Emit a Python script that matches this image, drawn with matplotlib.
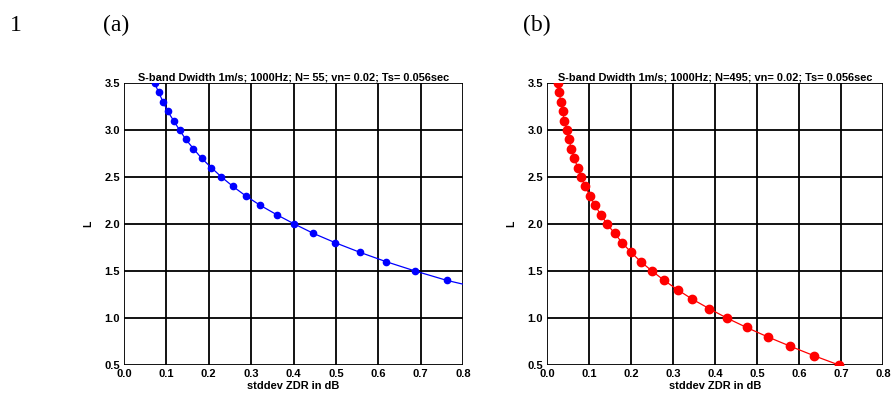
import matplotlib.pyplot as plt
import numpy as np

# panel (a): N=55, blue
L_a = [3.5, 3.4, 3.3, 3.2, 3.1, 3.0, 2.9, 2.8, 2.7, 2.6, 2.5, 2.4, 2.3, 2.2, 2.1,
       2.0, 1.9, 1.8, 1.7, 1.6, 1.5, 1.4]
sd_a = [0.072, 0.082, 0.092, 0.103, 0.117, 0.131, 0.146, 0.164, 0.183, 0.206, 0.230,
        0.257, 0.287, 0.321, 0.360, 0.402, 0.447, 0.499, 0.556, 0.618, 0.687, 0.762]
# curve continues past the last marker
curve_a_x = [0.066] + sd_a + [0.8]
curve_a_y = [3.56] + L_a + [1.36]

# panel (b): N=495, red
L_b = [3.5, 3.4, 3.3, 3.2, 3.1, 3.0, 2.9, 2.8, 2.7, 2.6, 2.5, 2.4, 2.3, 2.2, 2.1,
       2.0, 1.9, 1.8, 1.7, 1.6, 1.5, 1.4, 1.3, 1.2, 1.1, 1.0, 0.9, 0.8, 0.7, 0.6, 0.5]
sd_b = [0.027, 0.029, 0.033, 0.037, 0.041, 0.047, 0.052, 0.058, 0.065, 0.073, 0.081,
        0.091, 0.102, 0.114, 0.128, 0.143, 0.161, 0.179, 0.200, 0.223, 0.250, 0.279,
        0.311, 0.346, 0.386, 0.428, 0.475, 0.525, 0.579, 0.635, 0.695]
curve_b_x = [0.025] + sd_b
curve_b_y = [3.56] + L_b

titles = ["S-band Dwidth 1m/s; 1000Hz; N= 55; vn= 0.02; Ts= 0.056sec",
          "S-band Dwidth 1m/s; 1000Hz; N=495; vn= 0.02; Ts= 0.056sec"]

plt.rcParams['font.family'] = ['Liberation Sans', 'DejaVu Sans']

fig = plt.figure(figsize=(8.92, 3.95), dpi=100)
W, H = 892.0, 395.0

def make_axes(x0, x1):
    return fig.add_axes([x0 / W, 1 - 365 / H, (x1 - x0) / W, (365 - 83) / H])

ax1 = make_axes(124, 463)
ax2 = make_axes(547, 883)

panels = [(ax1, curve_a_x, curve_a_y, sd_a, L_a, "blue", 4.5, titles[0]),
          (ax2, curve_b_x, curve_b_y, sd_b, L_b, "red", 6, titles[1])]

for ax, cx, cy, px, py, col, ms, title in panels:
    ax.plot(cx, cy, color=col, lw=0.9)
    ax.plot(px, py, "o", color=col, ms=ms, mec=col)
    ax.set_xlim(0, 0.8)
    ax.set_ylim(0.5, 3.5)
    ax.set_xticks(np.arange(0, 0.81, 0.1))
    ax.set_yticks(np.arange(0.5, 3.51, 0.5))
    ax.xaxis.set_major_formatter(plt.FormatStrFormatter("%.1f"))
    ax.yaxis.set_major_formatter(plt.FormatStrFormatter("%.1f"))
    ax.grid(True, color="black", lw=1.3)
    ax.set_axisbelow(True)
    ax.tick_params(length=0, labelsize=8, pad=3)
    for lab in ax.get_xticklabels() + ax.get_yticklabels():
        lab.set_fontweight("bold")
    for sp in ax.spines.values():
        sp.set_visible(False)
    ax.set_title(title, fontsize=7.9, fontweight="bold", pad=1)
    ax.set_xlabel("stddev ZDR in dB", fontsize=7.9, fontweight="bold", labelpad=1.5)
    ax.set_ylabel("L", fontsize=7.5, fontweight="bold", labelpad=8)

fig.text(10 / W, 1 - 31 / H, "1", family="Liberation Serif", fontsize=17, va="baseline")
fig.text(103 / W, 1 - 31 / H, "(a)", family="Liberation Serif", fontsize=17, va="baseline")
fig.text(523 / W, 1 - 31 / H, "(b)", family="Liberation Serif", fontsize=17, va="baseline")

fig.savefig("out.png", dpi=100)
